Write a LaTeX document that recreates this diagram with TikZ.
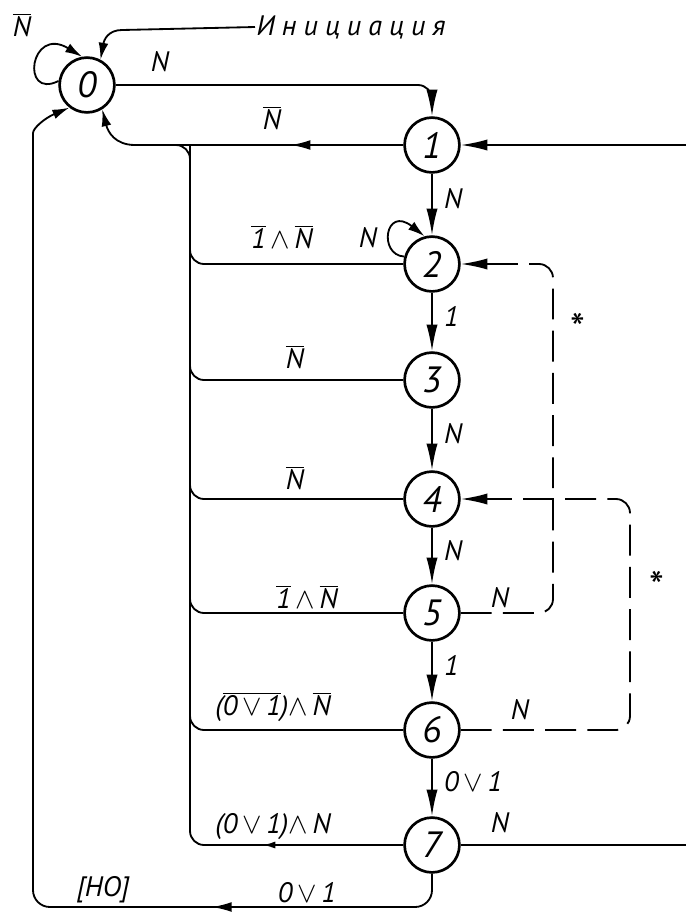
\documentclass[tikz,border=0pt]{standalone}
\usepackage{fontspec}
\setmainfont{PT Sans}
\usetikzlibrary{arrows.meta,decorations.markings}
\newcommand\ngt[1]{$\overline{\mbox{#1}}$}
\begin{document}
\begin{tikzpicture}[x=0.025cm,y=-0.025cm,
  state/.style={circle,draw,line width=1.9pt,minimum size=39pt,inner sep=0pt,font=\fontsize{26}{26}\selectfont\itshape},
  lbl/.style={font=\fontsize{20}{20}\selectfont\itshape,inner sep=1pt},
  edge/.style={line width=1.3pt},
  tip/.style={-{Latex[length=19pt,width=8pt]}},
  stip/.style={-{Latex[length=12pt,width=7pt]}},
  dashline/.style={line width=1.3pt,dash pattern=on 22pt off 8pt},
  midtip/.style={postaction={decorate},decoration={markings,mark=at position #1 with {\arrow{Latex[length=14pt,width=7pt]}}}}]
\useasboundingbox (0,0) rectangle (686,917);
% states
\node[state] (s0) at (87,85) {0};
\foreach \i/\y in {1/145,2/264,3/380,4/499,5/613,6/730,7/845} { \node[state] (s\i) at (432,\y) {\i}; }
\coordinate (r1) at (686,145); \coordinate (r7) at (686,845);
\coordinate (bus) at (190,145); \coordinate (busend) at (150,145);
\coordinate (loopbl) at (33,907); \coordinate (looptl) at (33,150);
\coordinate (d2) at (553,264); \coordinate (d4) at (630,499);
% start and return to 0
\node[lbl,anchor=west] (init) at (255,27) {\addfontfeatures{LetterSpace=25}Инициация};
\draw[edge,stip] (init.west) -- (122,30) .. controls (108,30) and (104,40) .. (s0.62);
\draw[edge,stip] (s0.172) .. controls (20,100) and (30,25) .. (s0.100);
\node[lbl] (n0) at (22,25) {\ngt{N}};
\draw[edge,tip,rounded corners=10pt] (s0.east) -| (s1.north);
\node[lbl] at (160,62) {N};
\draw[edge,stip,midtip=80pt] (s1.west) -- (135,145) .. controls (115,145) and (108,132) .. (s0.-58);
\node[lbl] at (272,118) {\ngt{N}};
\draw[edge,tip] (r1) -- (s1.east);
% chain
\foreach \a/\b/\t in {1/2/N,2/3/1,3/4/N,4/5/N,5/6/1,6/7/{0\,$\vee$\,1}} { \draw[edge,tip] (s\a) -- (s\b) node[lbl,pos=0.4,right=7pt] {\t}; }
\draw[edge,stip] (s2.165) .. controls (378,255) and (385,205) .. (s2.105);
\node[lbl] at (368,238) {N};
% left bus
\draw[edge,rounded corners=10pt,postaction={decorate},decoration={markings,mark=at position 100pt with {\arrow{Latex[length=9pt,width=5pt]}}}] (s7.west) -| (bus) -- (busend);
\foreach \i in {2,...,6} { \draw[edge,rounded corners=10pt] (s\i.west) -| (bus); }
\node[lbl] at (282,237) {\ngt{1}\,$\wedge$\,\ngt{N}};
\node[lbl] at (295,357) {\ngt{N}};
\node[lbl] at (295,478) {\ngt{N}};
\node[lbl] at (307,597) {\ngt{1}\,$\wedge$\,\ngt{N}};
\node[lbl] at (273,707) {($\overline{\mbox{0\,$\vee$\,1}}$)$\wedge$\,\ngt{N}};
\node[lbl] at (273,827) {(0\,$\vee$\,1)$\wedge$\,N};
\draw[edge] (s7.east) -- (r7);
\node[lbl] at (500,823) {N};
% back to 0
\draw[edge,stip,rounded corners=12pt,midtip=175pt] (s7.south) |- (loopbl) -- (looptl) .. controls (33,128) and (45,118) .. (s0.-128);
\node[lbl] at (307,893) {0\,$\vee$\,1};
\node[lbl] at (103,890) {[НО]};
% dashed returns
\draw[dashline,tip,rounded corners=10pt] (s5.east) -| (d2) -- (s2.east);
\draw[dashline,tip,rounded corners=10pt] (s6.east) -| (d4) -- (s4.east);
\node[lbl,font=\fontsize{30}{30}\selectfont] at (578,328) {*};
\node[lbl,font=\fontsize{30}{30}\selectfont] at (657,586) {*};
\node[lbl] at (500,598) {N};
\node[lbl] at (520,710) {N};
\end{tikzpicture}
\end{document}
